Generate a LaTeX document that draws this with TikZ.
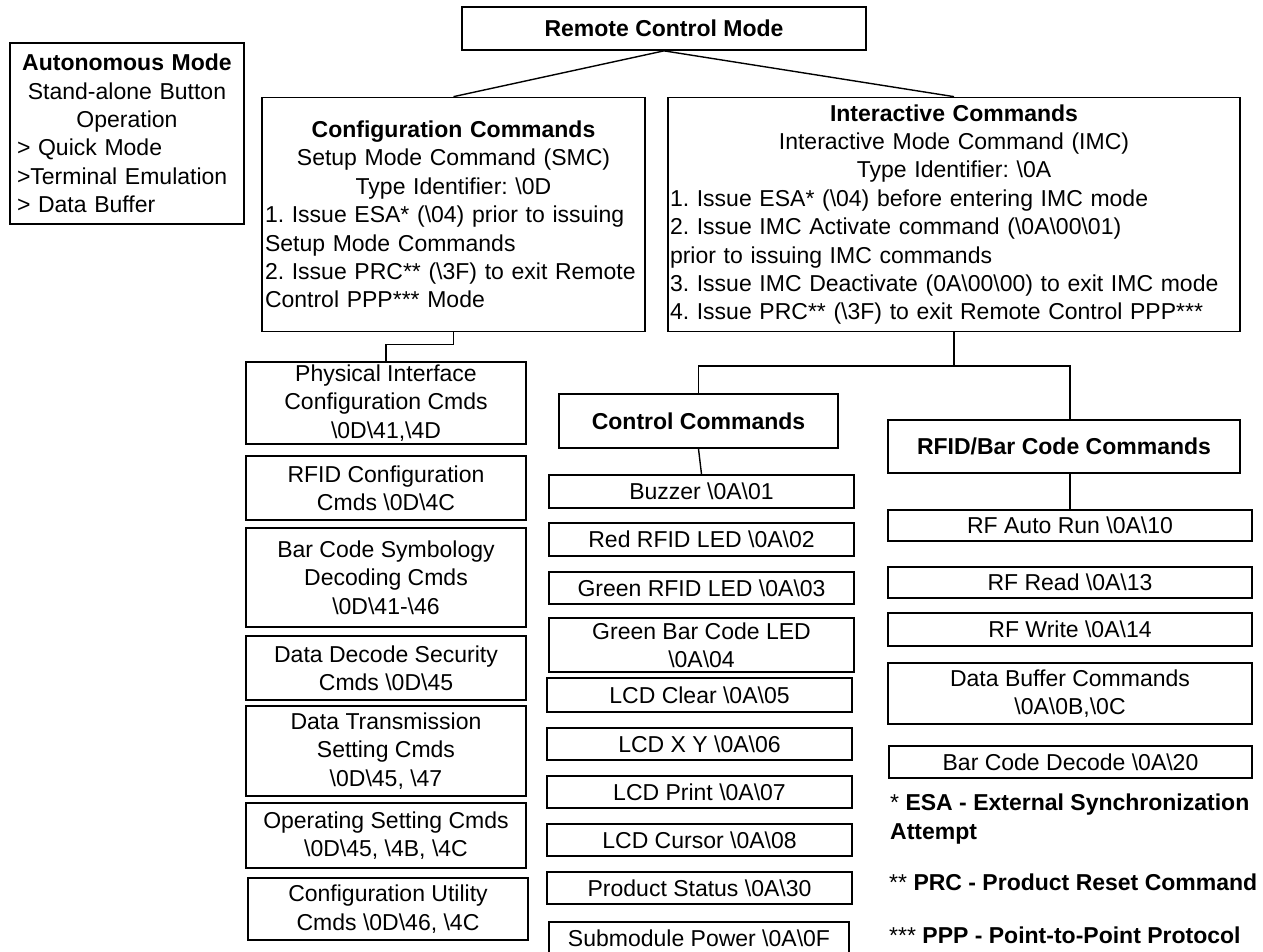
\documentclass[tikz,border=0pt]{standalone}
\usepackage{fontspec}
\setmainfont{Liberation Sans}
\setlength{\parindent}{0pt}
\setlength{\parskip}{0pt}
\frenchspacing
\newcommand\bs{\textbackslash}
\newcommand\boxfont{\fontsize{23}{28.4}\selectfont\frenchspacing}

\begin{document}
\begin{tikzpicture}[x=1pt,y=-1pt,
  box/.style={draw, line width=1.7pt, inner sep=0pt, align=center, font=\boxfont},
  wide/.style={draw, line width=1.7pt, inner ysep=0pt, font=\boxfont},
  link/.style={line width=1.4pt},
  note/.style={font=\boxfont\bfseries, inner sep=0pt, align=left}]

\fill[white] (0,0) rectangle (1263,951);
\useasboundingbox (0,0) rectangle (1263,951);
\clip (0,0) rectangle (1263,951);

% top level
\node[box, minimum width=404pt, minimum height=43pt, font=\boxfont\bfseries] (remote) at (664,28.5) {Remote Control Mode};

\node[wide, minimum width=234pt, minimum height=181pt, text width=220pt, inner xsep=7pt] (auto) at (127,133.5)
  {{\centering\textbf{Autonomous Mode}\\Stand-alone Button\\Operation\par}\raggedright
   > Quick Mode\\>Terminal Emulation\\> Data Buffer\par};

\node[wide, minimum width=383pt, minimum height=234pt, text width=377pt, inner xsep=3pt] (config) at (453.5,214.5)
  {{\centering\textbf{Configuration Commands}\\Setup Mode Command (SMC)\\Type Identifier: \bs 0D\par}\raggedright
   1. Issue ESA* (\bs 04) prior to issuing\\Setup Mode Commands\\2. Issue PRC** (\bs 3F) to exit Remote\\Control PPP*** Mode\par};

\node[wide, minimum width=572pt, minimum height=234pt, text width=568pt, inner xsep=2pt] (inter) at (954,214.5)
  {{\centering\textbf{Interactive Commands}\\Interactive Mode Command (IMC)\\Type Identifier: \bs 0A\par}\raggedright
   1. Issue ESA* (\bs 04) before entering IMC mode\\2. Issue IMC Activate command (\bs 0A\bs 00\bs 01)\\prior to issuing IMC commands\\3. Issue IMC Deactivate (0A\bs 00\bs 00) to exit IMC mode\\4. Issue PRC** (\bs 3F) to exit Remote Control PPP***\par};

% setup mode command column
\node[box, minimum width=280pt, minimum height=82pt] (phys) at (386,403) {Physical Interface\\Configuration Cmds\\\bs 0D\bs 41,\bs 4D};
\node[box, minimum width=280pt, minimum height=64pt] (rfidconf) at (386,488) {RFID Configuration\\Cmds \bs 0D\bs 4C};
\node[box, minimum width=280pt, minimum height=99pt] (barsym) at (386,577.5) {Bar Code Symbology\\Decoding Cmds\\\bs 0D\bs 41-\bs 46};
\node[box, minimum width=280pt, minimum height=64pt] (decsec) at (386,668) {Data Decode Security\\Cmds \bs 0D\bs 45};
\node[box, minimum width=280pt, minimum height=90pt] (trans) at (386,751) {Data Transmission\\Setting Cmds\\\bs 0D\bs 45, \bs 47};
\node[box, minimum width=280pt, minimum height=65pt] (oper) at (386,835.5) {Operating Setting Cmds\\\bs 0D\bs 45, \bs 4B, \bs 4C};
\node[box, minimum width=280pt, minimum height=62pt] (util) at (388,909) {Configuration Utility\\Cmds \bs 0D\bs 46, \bs 4C};

% control command column
\node[box, minimum width=279pt, minimum height=54pt, font=\boxfont\bfseries] (ctrl) at (698.5,421) {Control Commands};
\node[box, minimum width=305pt, minimum height=33pt] (buzz) at (701.5,491.5) {Buzzer \bs 0A\bs 01};
\node[box, minimum width=305pt, minimum height=33pt] (redled) at (701.5,539.5) {Red RFID LED \bs 0A\bs 02};
\node[box, minimum width=305pt, minimum height=32pt] (grnled) at (701.5,588) {Green RFID LED \bs 0A\bs 03};
\node[box, minimum width=305pt, minimum height=54pt] (barled) at (701.5,645) {Green Bar Code LED\\\bs 0A\bs 04};
\node[box, minimum width=305pt, minimum height=34pt] (lcdclr) at (699.5,695) {LCD Clear \bs 0A\bs 05};
\node[box, minimum width=305pt, minimum height=32pt] (lcdxy) at (699.5,744) {LCD X Y \bs 0A\bs 06};
\node[box, minimum width=305pt, minimum height=32pt] (lcdprn) at (699.5,792) {LCD Print \bs 0A\bs 07};
\node[box, minimum width=305pt, minimum height=32pt] (lcdcur) at (699.5,840) {LCD Cursor \bs 0A\bs 08};
\node[box, minimum width=305pt, minimum height=32pt] (status) at (699.5,888) {Product Status \bs 0A\bs 30};
\node[box, minimum width=300pt, minimum height=33pt] (submod) at (699,938.5) {Submodule Power \bs 0A\bs 0F};

% RFID / bar code column
\node[box, minimum width=352pt, minimum height=53pt, font=\boxfont\bfseries] (rfbar) at (1064,446.5) {RFID/Bar Code Commands};
\node[box, minimum width=364pt, minimum height=31pt] (autorun) at (1070,525.5) {RF Auto Run \bs 0A\bs 10};
\node[box, minimum width=364pt, minimum height=31pt] (rfread) at (1070,582.5) {RF Read \bs 0A\bs 13};
\node[box, minimum width=364pt, minimum height=33pt] (rfwrite) at (1070,629.5) {RF Write \bs 0A\bs 14};
\node[box, minimum width=364pt, minimum height=61pt] (databuf) at (1070,693.5) {Data Buffer Commands\\\bs 0A\bs 0B,\bs 0C};
\node[box, minimum width=363pt, minimum height=32pt] (bcdec) at (1070.5,762) {Bar Code Decode \bs 0A\bs 20};

% footnotes
\node[note, anchor=north west] (esa) at (890,794) {{\mdseries *} ESA - External Synchronization\\Attempt};
\node[note, anchor=base west] (prc) at (889,890) {{\mdseries **} PRC - Product Reset Command};
\node[note, anchor=base west] (ppp) at (889,943) {{\mdseries ***} PPP - Point-to-Point Protocol};

% connectors
\coordinate (split) at (954,366);
\draw[link] (remote.south) -- (config.north);
\draw[link] (remote.south) -- (inter.north);
\draw[link] (config.south) -- ++(0,12) -| (phys.north);
\draw[link] (inter.south) -- (split);
\draw[link] (ctrl.north) |- (split) -| (autorun.north |- rfbar.north);
\draw[link] (ctrl.south) -- (buzz.north);
\draw[link] (autorun.north |- rfbar.south) -- (autorun.north);
\end{tikzpicture}
\end{document}
